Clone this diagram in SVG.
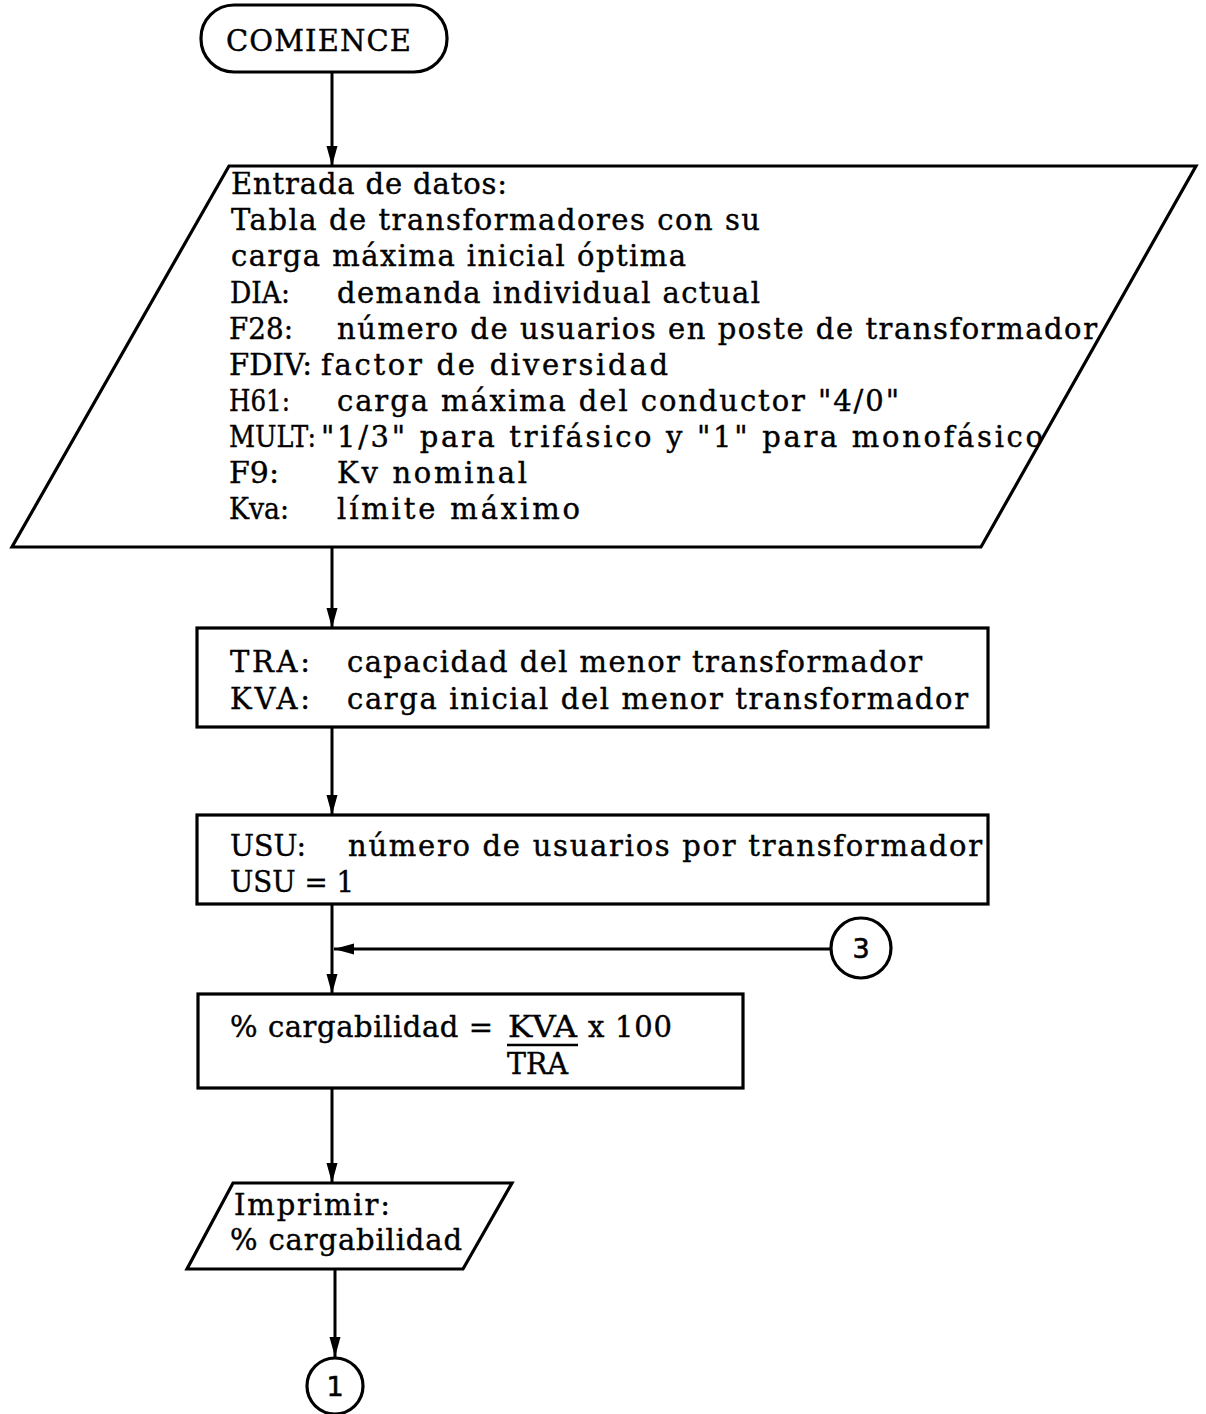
<svg xmlns="http://www.w3.org/2000/svg" width="1206" height="1414" viewBox="0 0 1206 1414">
  <style>
    .shape { fill: #ffffff; stroke: #000000; stroke-width: 3.2; stroke-linejoin: miter; }
    .wire { fill: none; stroke: #000000; stroke-width: 3; }
    .t { font-family: "DejaVu Serif", "Liberation Serif", serif; font-size: 29px; fill: #000000; stroke: #000000; stroke-width: 0.4; }
    .num { font-family: "DejaVu Sans", "Liberation Sans", sans-serif; font-size: 27px; fill: #000000; stroke: #000000; stroke-width: 0.6; text-anchor: middle; }
  </style>
  <defs>
    <marker id="arrow" viewBox="0 0 20 12" refX="20" refY="6" markerWidth="20" markerHeight="12" markerUnits="userSpaceOnUse" orient="auto">
      <path d="M0,0.5 L20,6 L0,11.5 Z" fill="#000000"/>
    </marker>
  </defs>
  <rect width="1206" height="1414" fill="#ffffff"/>

  <!-- connectors -->
  <g id="connectors">
    <line class="wire" x1="332" y1="72" x2="332" y2="166" marker-end="url(#arrow)"/>
    <line class="wire" x1="332" y1="547" x2="332" y2="628" marker-end="url(#arrow)"/>
    <line class="wire" x1="332" y1="727" x2="332" y2="815" marker-end="url(#arrow)"/>
    <line class="wire" x1="332" y1="904" x2="332" y2="994" marker-end="url(#arrow)"/>
    <line class="wire" x1="830" y1="949" x2="334" y2="949" marker-end="url(#arrow)"/>
    <line class="wire" x1="332" y1="1088" x2="332" y2="1183" marker-end="url(#arrow)"/>
    <line class="wire" x1="335" y1="1269" x2="335" y2="1357" marker-end="url(#arrow)"/>
  </g>

  <!-- start terminal -->
  <g id="start">
    <rect class="shape" x="201" y="5" width="246" height="67" rx="33" ry="33"/>
    <text class="t" x="226" y="51" textLength="185" lengthAdjust="spacing">COMIENCE</text>
  </g>

  <!-- data input -->
  <g id="input">
    <polygon class="shape" points="229,166 1196,166 981,547 12,547"/>
    <text class="t" x="231" y="194" textLength="276" lengthAdjust="spacing">Entrada de datos:</text>
    <text class="t" x="231" y="230" textLength="529" lengthAdjust="spacing">Tabla de transformadores con su</text>
    <text class="t" x="231" y="266" textLength="455" lengthAdjust="spacing">carga máxima inicial óptima</text>
    <text class="t" x="230" y="303" textLength="60" lengthAdjust="spacingAndGlyphs">DIA:</text>
    <text class="t" x="337" y="303" textLength="423" lengthAdjust="spacing">demanda individual actual</text>
    <text class="t" x="229" y="339" textLength="64" lengthAdjust="spacingAndGlyphs">F28:</text>
    <text class="t" x="337" y="339" textLength="760" lengthAdjust="spacing">número de usuarios en poste de transformador</text>
    <text class="t" x="229" y="375" textLength="83" lengthAdjust="spacingAndGlyphs">FDIV:</text>
    <text class="t" x="321" y="375" textLength="347" lengthAdjust="spacing">factor de diversidad</text>
    <text class="t" x="229" y="411" textLength="61" lengthAdjust="spacingAndGlyphs">H61:</text>
    <text class="t" x="337" y="411" textLength="562" lengthAdjust="spacing">carga máxima del conductor "4/0"</text>
    <text class="t" x="229" y="447" textLength="87" lengthAdjust="spacingAndGlyphs">MULT:</text>
    <text class="t" x="321" y="447" textLength="722" lengthAdjust="spacing">"1/3" para trifásico y "1" para monofásico</text>
    <text class="t" x="229" y="483" textLength="50" lengthAdjust="spacingAndGlyphs">F9:</text>
    <text class="t" x="337" y="483" textLength="190" lengthAdjust="spacing">Kv nominal</text>
    <text class="t" x="229" y="519" textLength="60" lengthAdjust="spacingAndGlyphs">Kva:</text>
    <text class="t" x="337" y="519" textLength="243" lengthAdjust="spacing">límite máximo</text>
  </g>

  <!-- smallest transformer -->
  <g id="transformer">
    <rect class="shape" x="197" y="628" width="791" height="99"/>
    <text class="t" x="230" y="672" textLength="80" lengthAdjust="spacing">TRA:</text>
    <text class="t" x="347" y="672" textLength="575" lengthAdjust="spacing">capacidad del menor transformador</text>
    <text class="t" x="230" y="709" textLength="80" lengthAdjust="spacing">KVA:</text>
    <text class="t" x="347" y="709" textLength="621" lengthAdjust="spacing">carga inicial del menor transformador</text>
  </g>

  <!-- users per transformer -->
  <g id="users">
    <rect class="shape" x="197" y="815" width="791" height="89"/>
    <text class="t" x="230" y="856" textLength="76" lengthAdjust="spacingAndGlyphs">USU:</text>
    <text class="t" x="348" y="856" textLength="634" lengthAdjust="spacing">número de usuarios por transformador</text>
    <text class="t" x="230" y="892" textLength="124" lengthAdjust="spacingAndGlyphs">USU = 1</text>
  </g>

  <!-- off-page connector 3 -->
  <g id="connector-3">
    <circle class="shape" cx="861" cy="948" r="30"/>
    <text class="num" x="861" y="958">3</text>
  </g>

  <!-- loading percentage -->
  <g id="loading">
    <rect class="shape" x="198" y="994" width="545" height="94"/>
    <text class="t" x="230" y="1037" textLength="263" lengthAdjust="spacing">% cargabilidad =</text>
    <text class="t" x="508" y="1037" textLength="69" lengthAdjust="spacingAndGlyphs">KVA</text>
    <line x1="507" y1="1045" x2="578" y2="1045" stroke="#000000" stroke-width="2.6"/>
    <text class="t" x="588" y="1037" textLength="84" lengthAdjust="spacing">x 100</text>
    <text class="t" x="507" y="1074" textLength="61" lengthAdjust="spacingAndGlyphs">TRA</text>
  </g>

  <!-- print output -->
  <g id="print">
    <polygon class="shape" points="233,1183 512,1183 463,1269 187,1269"/>
    <text class="t" x="234" y="1215" textLength="156" lengthAdjust="spacing">Imprimir:</text>
    <text class="t" x="230" y="1250" textLength="232" lengthAdjust="spacing">% cargabilidad</text>
  </g>

  <!-- off-page connector 1 -->
  <g id="connector-1">
    <circle class="shape" cx="335" cy="1386" r="28"/>
    <text class="num" x="335" y="1396">1</text>
  </g>
</svg>
